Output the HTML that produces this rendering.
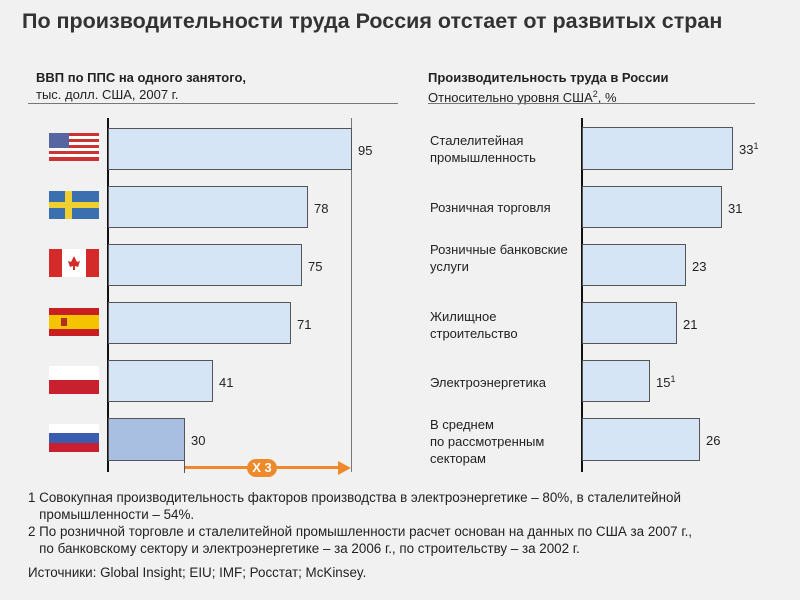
<!DOCTYPE html>
<html><head><meta charset="utf-8"><style>
body{margin:0;width:800px;height:600px;background:#f1f1f1;font-family:"Liberation Sans",sans-serif;color:#222;position:relative;overflow:hidden}
.a{position:absolute;white-space:nowrap}
.bar{position:absolute;background:#d6e5f6;border:1px solid #555;box-sizing:border-box}
.v{position:absolute;font-size:13px}
.fn{position:absolute;font-size:13.4px;left:28px;line-height:17px}
.lb{position:absolute;left:430px;font-size:13px;line-height:17px;white-space:nowrap}
</style></head><body>
<div class="a" style="left:22px;top:9px;font-size:21.5px;font-weight:bold;color:#333">По производительности труда Россия отстает от развитых стран</div>
<div class="a" style="left:36px;top:69px;font-size:13px;line-height:17px"><b>ВВП по ППС на одного занятого,</b><br>тыс. долл. США, 2007 г.</div>
<div class="a" style="left:428px;top:69px;font-size:13px;line-height:17px"><b>Производительность труда в России</b><br>Относительно уровня США<span style="font-size:9px;vertical-align:5px">2</span>, %</div>
<div class="a" style="left:28px;top:103px;width:370px;height:1px;background:#777"></div>
<div class="a" style="left:428px;top:103px;width:327px;height:1px;background:#777"></div>

<div class="a" style="left:107px;top:118px;width:2px;height:354px;background:#111"></div>
<div class="a" style="left:351px;top:118px;width:1px;height:354px;background:#777"></div>
<div class="a" style="left:581px;top:118px;width:2px;height:354px;background:#111"></div>

<svg class="a" style="left:49px;top:133px" width="50" height="28" viewBox="0 0 50 28">
<rect width="50" height="28" fill="#fff"/><g fill="#c33"><rect y="0" width="50" height="3"/><rect y="6" width="50" height="3"/><rect y="12" width="50" height="3"/><rect y="18" width="50" height="3"/><rect y="24" width="50" height="4"/></g><rect width="20" height="15" fill="#5566a0"/></svg>
<svg class="a" style="left:49px;top:191px" width="50" height="28"><rect width="50" height="28" fill="#3a6fb0"/><rect x="16" width="7" height="28" fill="#f0d030"/><rect y="11" width="50" height="6" fill="#f0d030"/></svg>
<svg class="a" style="left:49px;top:249px" width="50" height="28"><rect width="50" height="28" fill="#d42a2a"/><rect x="13" width="24" height="28" fill="#fff"/><path d="M25 7 L28 13 L31 12 L29 18 L26 17 L26 21 L24 21 L24 17 L21 18 L19 12 L22 13Z" fill="#d42a2a"/></svg>
<svg class="a" style="left:49px;top:308px" width="50" height="28"><rect width="50" height="28" fill="#c82020"/><rect y="7" width="50" height="14" fill="#f5c400"/><rect x="12" y="10" width="6" height="8" fill="#b03020"/></svg>
<svg class="a" style="left:49px;top:366px" width="50" height="28"><rect width="50" height="28" fill="#fff"/><rect y="14" width="50" height="14" fill="#c8202e"/></svg>
<svg class="a" style="left:49px;top:424px" width="50" height="28"><rect width="50" height="28" fill="#fff"/><rect y="9" width="50" height="10" fill="#3b5db0"/><rect y="19" width="50" height="9" fill="#c8202e"/></svg>

<div class="bar" style="left:108px;top:128px;width:244px;height:42px"></div><div class="v" style="left:358px;top:143px">95</div>
<div class="bar" style="left:108px;top:186px;width:200px;height:42px"></div><div class="v" style="left:314px;top:201px">78</div>
<div class="bar" style="left:108px;top:244px;width:194px;height:42px"></div><div class="v" style="left:308px;top:259px">75</div>
<div class="bar" style="left:108px;top:302px;width:183px;height:42px"></div><div class="v" style="left:297px;top:317px">71</div>
<div class="bar" style="left:108px;top:360px;width:105px;height:42px"></div><div class="v" style="left:219px;top:375px">41</div>
<div class="bar" style="left:108px;top:418px;width:77px;height:43px;background:#a9bfe2"></div><div class="v" style="left:191px;top:433px">30</div>
<div class="a" style="left:184px;top:461px;width:1px;height:12px;background:#555"></div>
<div class="a" style="left:185px;top:466px;width:155px;height:3px;background:#ee8a2a"></div>
<div class="a" style="left:338px;top:461px;width:0;height:0;border-left:13px solid #ee8a2a;border-top:7px solid transparent;border-bottom:7px solid transparent"></div>
<div class="a" style="left:247px;top:459px;width:30px;height:18px;border-radius:9px;background:#ee8a2a;color:#fff;font-weight:bold;font-size:13px;text-align:center;line-height:18px">X 3</div>

<div class="lb" style="top:132px">Сталелитейная<br>промышленность</div>
<div class="lb" style="top:199px">Розничная торговля</div>
<div class="lb" style="top:241px">Розничные банковские<br>услуги</div>
<div class="lb" style="top:308px">Жилищное<br>строительство</div>
<div class="lb" style="top:374px">Электроэнергетика</div>
<div class="lb" style="top:416px">В среднем<br>по рассмотренным<br>секторам</div>

<div class="bar" style="left:582px;top:127px;width:151px;height:43px"></div><div class="v" style="left:739px;top:141px">33<span style="font-size:9px;vertical-align:5px">1</span></div>
<div class="bar" style="left:582px;top:186px;width:140px;height:42px"></div><div class="v" style="left:728px;top:201px">31</div>
<div class="bar" style="left:582px;top:244px;width:104px;height:42px"></div><div class="v" style="left:692px;top:259px">23</div>
<div class="bar" style="left:582px;top:302px;width:95px;height:42px"></div><div class="v" style="left:683px;top:317px">21</div>
<div class="bar" style="left:582px;top:360px;width:68px;height:42px"></div><div class="v" style="left:656px;top:374px">15<span style="font-size:9px;vertical-align:5px">1</span></div>
<div class="bar" style="left:582px;top:418px;width:118px;height:43px"></div><div class="v" style="left:706px;top:433px">26</div>

<div class="fn" style="top:489px">1 Совокупная производительность факторов производства в электроэнергетике – 80%, в сталелитейной<br>&nbsp;&nbsp;&nbsp;промышленности – 54%.</div>
<div class="fn" style="top:523px">2 По розничной торговле и сталелитейной промышленности расчет основан на данных по США за 2007 г.,<br>&nbsp;&nbsp;&nbsp;по банковскому сектору и электроэнергетике – за 2006 г., по строительству – за 2002 г.</div>
<div class="fn" style="top:564px">Источники: Global Insight; EIU; IMF; Росстат; McKinsey.</div>
</body></html>
